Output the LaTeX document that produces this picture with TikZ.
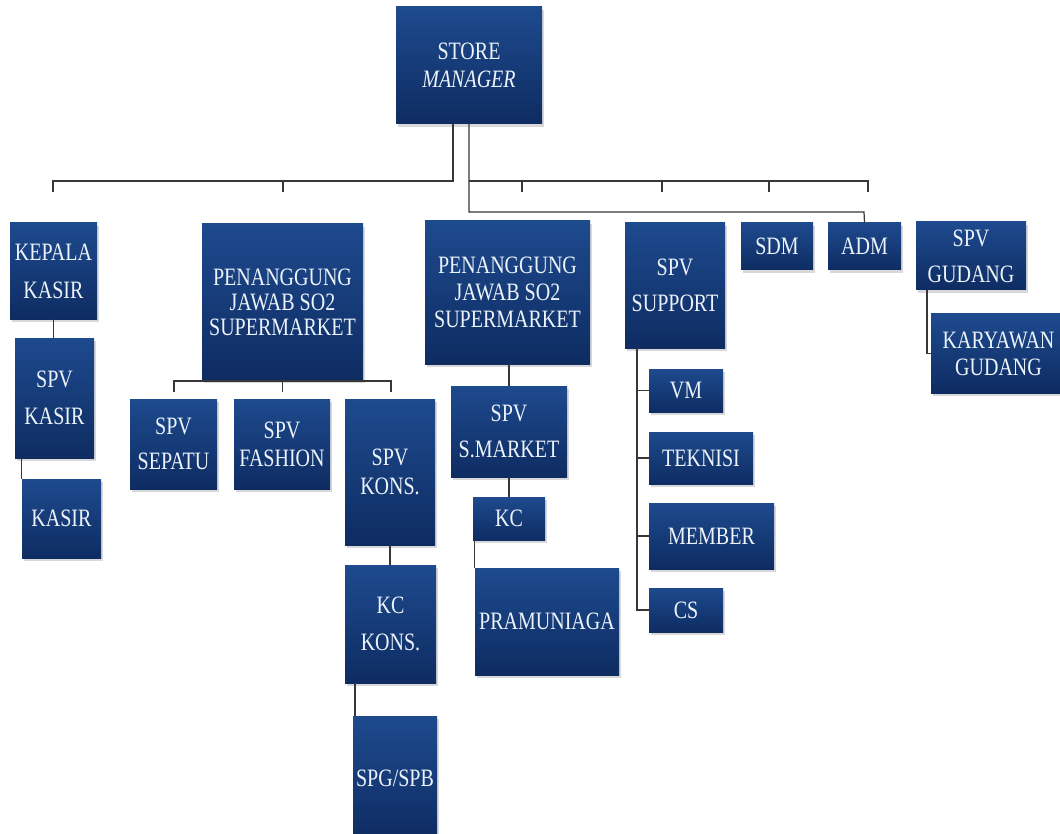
\documentclass[tikz,border=0pt]{standalone}
\usepackage{fontspec}
\setmainfont{Liberation Serif}
\newfontfamily\boxfont[FakeStretch=0.8]{Liberation Serif}
\usetikzlibrary{shadows}
\definecolor{boxtop}{RGB}{30,74,142}
\definecolor{boxbot}{RGB}{14,44,98}
\definecolor{boxtext}{RGB}{236,243,250}
\definecolor{linecol}{RGB}{55,55,55}
\tikzset{
  box/.style={rectangle, inner sep=0pt, align=center, text=boxtext,
    top color=boxtop, bottom color=boxbot, draw=none,
    drop shadow={opacity=0.3, shadow xshift=1.5pt, shadow yshift=-3pt},
    font=\boxfont\fontsize{25}{27}\selectfont},
  wide/.style={font=\boxfont\fontsize{25}{36}\selectfont},
  conn/.style={draw=linecol, line width=1.2pt}
}
\begin{document}
\begin{tikzpicture}[x=1pt,y=-1pt]
\useasboundingbox[fill=white] (0,0) rectangle (1060,834);
% boxes: center and size in px
\node[box, minimum width=146pt, minimum height=117pt, font=\boxfont\fontsize{25}{28}\selectfont] (sm) at (469,65.5) {STORE\\\textit{MANAGER}};
\node[box, minimum width=87pt, minimum height=96pt, font=\boxfont\fontsize{25}{38}\selectfont] (kk) at (53.5,271) {KEPALA\\KASIR};
\node[box, minimum width=161pt, minimum height=156pt, font=\boxfont\fontsize{25}{25}\selectfont] (pj1) at (282.5,302) {PENANGGUNG\\JAWAB SO2\\SUPERMARKET};
\node[box, minimum width=165pt, minimum height=143pt] (pj2) at (507.5,292.5) {PENANGGUNG\\JAWAB SO2\\SUPERMARKET};
\node[box, wide, minimum width=100pt, minimum height=125pt] (sup) at (675,285.5) {SPV\\SUPPORT};
\node[box, minimum width=72pt, minimum height=47pt] (sdm) at (777,246.5) {SDM};
\node[box, minimum width=73pt, minimum height=47pt] (adm) at (864.5,246.5) {ADM};
\node[box, wide, minimum width=110pt, minimum height=68pt] (gud) at (971,256) {SPV\\GUDANG};
\node[box, minimum width=135pt, minimum height=79pt] (kar) at (998.5,353.5) {KARYAWAN\\GUDANG};
\node[box, font=\boxfont\fontsize{25}{37}\selectfont, minimum width=79pt, minimum height=120pt] (spk) at (54.5,398) {SPV\\KASIR};
\node[box, minimum width=79pt, minimum height=79pt] (kas) at (61.5,518.5) {KASIR};
\node[box, font=\boxfont\fontsize{25}{35}\selectfont, minimum width=87pt, minimum height=90pt] (sep) at (173.5,444) {SPV\\SEPATU};
\node[box, font=\boxfont\fontsize{25}{28}\selectfont, minimum width=96pt, minimum height=90pt] (fas) at (282,444) {SPV\\FASHION};
\node[box, font=\boxfont\fontsize{25}{29}\selectfont, minimum width=90pt, minimum height=146pt] (kon) at (390,472) {SPV\\KONS.};
\node[box, font=\boxfont\fontsize{25}{37}\selectfont, minimum width=91pt, minimum height=118pt] (kck) at (390.5,624) {KC\\KONS.};
\node[box, minimum width=84pt, minimum height=124pt] (spg) at (395,778) {SPG/SPB};
\node[box, wide, minimum width=116pt, minimum height=91pt] (ssm) at (509,431.5) {SPV\\S.MARKET};
\node[box, minimum width=72pt, minimum height=43pt] (kc) at (509,518.5) {KC};
\node[box, minimum width=144pt, minimum height=107pt] (pra) at (547,621.5) {PRAMUNIAGA};
\node[box, minimum width=74pt, minimum height=43pt] (vm) at (686,390.5) {VM};
\node[box, minimum width=104pt, minimum height=52pt] (tek) at (701,458) {TEKNISI};
\node[box, minimum width=125pt, minimum height=66pt] (mem) at (711.5,536) {MEMBER};
\node[box, minimum width=74pt, minimum height=44pt] (cs) at (686,610) {CS};
% helper coordinates
\coordinate (ta1) at (53,181);  \coordinate (ta) at (53,192);
\coordinate (tb1) at (283,181); \coordinate (tb) at (283,192);
\coordinate (tc1) at (522,181); \coordinate (tc) at (522,192);
\coordinate (td1) at (662,181); \coordinate (td) at (662,192);
\coordinate (te1) at (769,181); \coordinate (te) at (769,192);
\coordinate (tf1) at (868,181); \coordinate (tf) at (868,192);
\coordinate (smL) at (453,124);
\coordinate (line2) at (864,212);
% top connectors
\draw[conn] (smL) |- (ta1) -- (ta);
\draw[conn] (tb1) -- (tb);
\draw[conn] (sm.south) |- (line2) -- (adm.north);
\draw[conn] (sm.south |- tf1) -- (tf1) -- (tf);
\draw[conn] (tc1) -- (tc);
\draw[conn] (td1) -- (td);
\draw[conn] (te1) -- (te);
% left column
\draw[conn] (kk.south) -- (kk.south |- spk.north);
\draw[conn] (kas.north west) -- (kas.north west |- spk.south);
% penanggung jawab 1 children
\coordinate (b1) at (174,381); \coordinate (b2) at (391,381);
\coordinate (b1e) at (174,392); \coordinate (b2e) at (391,392);
\draw[conn] (b1e) -- (b1) -- (b2) -- (b2e);
\draw[conn] (pj1.south) -- ++(0,12);
\draw[conn] (kon.south) -- (kon.south |- kck.north);
\coordinate (k2) at (355,716);
\draw[conn] (k2 |- kck.south) -- (k2);
% penanggung jawab 2 children
\draw[conn] (ssm.north) -- (ssm.north |- pj2.south);
\draw[conn] (ssm.south) -- (kc.north);
\draw[conn] (pra.north west) -- (pra.north west |- kc.south);
% support children
\coordinate (sv) at (637,348);
\draw[conn] (sv) |- (cs.west);
\draw[conn] (sv |- vm.west) -- (vm.west);
\draw[conn] (sv |- tek.west) -- (tek.west);
\draw[conn] (sv |- mem.west) -- (mem.west);
% gudang
\coordinate (gv) at (927,290);
\draw[conn] (gv) |- (kar.west);
\end{tikzpicture}
\end{document}
